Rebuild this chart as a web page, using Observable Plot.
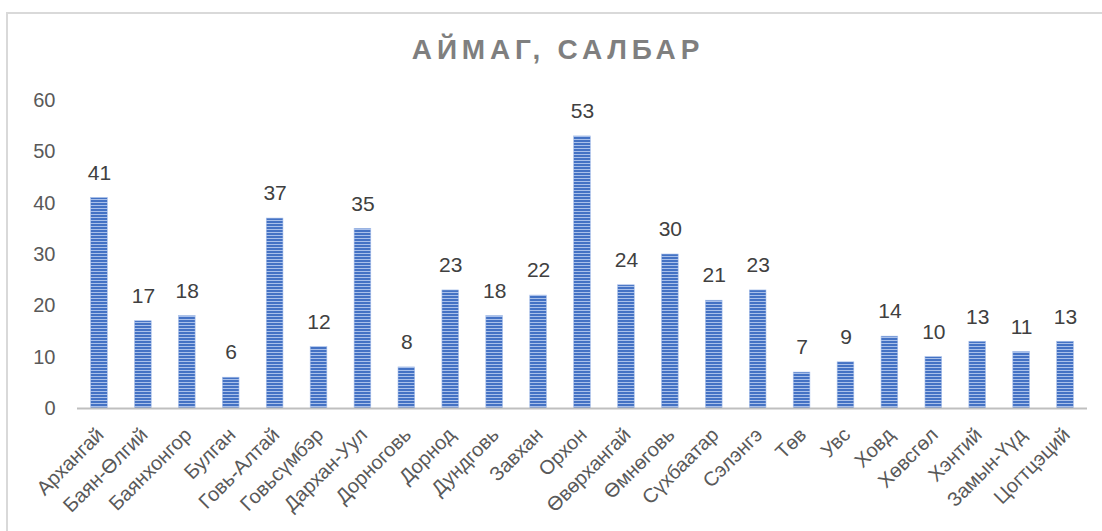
<!DOCTYPE html>
<html>
<head>
<meta charset="utf-8">
<script src="https://cdn.jsdelivr.net/npm/d3@7"></script>
<script src="https://cdn.jsdelivr.net/npm/@observablehq/plot@0.6"></script>
<style>
  html, body { margin: 0; padding: 0; background: #fff; overflow: hidden; width: 1102px; height: 531px; }
  body { position: relative; font-family: "Liberation Sans", Arial, sans-serif; }
  #frame { position: absolute; left: 6px; top: 12px; width: 1200px; height: 700px; border: 2px solid #d9d9d9; box-sizing: border-box; }
  #title { position: absolute; left: 7px; top: 0; width: 1102px; height: 80px; text-align: center; line-height: 100px;
           font-size: 28px; font-weight: bold; color: #7f7f7f; letter-spacing: 4.8px; }
  #chart { position: absolute; left: 0; top: 80px; }
</style>
</head>
<body>
<div id="frame"></div>
<div id="title">АЙМАГ, САЛБАР</div>
<div id="chart"></div>
<script>
const categories = ["Архангай", "Баян-Өлгий", "Баянхонгор", "Булган", "Говь-Алтай", "Говьсүмбэр", "Дархан-Уул", "Дорноговь", "Дорнод", "Дундговь", "Завхан", "Орхон", "Өвөрхангай", "Өмнөговь", "Сүхбаатар", "Сэлэнгэ", "Төв", "Увс", "Ховд", "Хөвсгөл", "Хэнтий", "Замын-Үүд", "Цогтцэций"];
const values = [41, 17, 18, 6, 37, 12, 35, 8, 23, 18, 22, 53, 24, 30, 21, 23, 7, 9, 14, 10, 13, 11, 13];
const yTicks = [0, 10, 20, 30, 40, 50, 60];

const data = categories.map((c, i) => ({ name: c, value: values[i] }));

const svg = Plot.plot({
  width: 1102,
  height: 451,
  marginTop: 20,
  marginBottom: 123,
  marginLeft: 77,
  marginRight: 15,
  style: { fontFamily: "Liberation Sans, Arial, sans-serif", background: "transparent" },
  x: { domain: categories, paddingInner: 0.62, paddingOuter: 0.31, round: false, label: null },
  y: { domain: [0, 60], label: null },
  marks: [
    Plot.axisY({ ticks: yTicks, tickSize: 0, tickPadding: 22, fontSize: 20, color: "#595959", label: null }),
    Plot.axisX({ tickSize: 0, tickPadding: 23, dx: 1, tickRotate: -45, fontSize: 20, color: "#595959", label: null }),
    Plot.barY(data, { x: "name", y: "value", fill: "url(#stripes)", stroke: "#a9c0ea", strokeWidth: 0.6 }),
    Plot.ruleY([0], { stroke: "#bfbfbf", strokeWidth: 2 }),
    Plot.text(data, { x: "name", y: "value", text: d => String(d.value), dy: -25, fontSize: 21, fill: "#404040", lineAnchor: "middle" })
  ]
});

const ns = "http://www.w3.org/2000/svg";
const defs = document.createElementNS(ns, "defs");
const pat = document.createElementNS(ns, "pattern");
pat.setAttribute("id", "stripes");
pat.setAttribute("patternUnits", "userSpaceOnUse");
pat.setAttribute("width", "4");
pat.setAttribute("height", "3");
const r1 = document.createElementNS(ns, "rect");
r1.setAttribute("width", "4"); r1.setAttribute("height", "3"); r1.setAttribute("fill", "#a9c0ea");
const r2 = document.createElementNS(ns, "rect");
r2.setAttribute("width", "4"); r2.setAttribute("height", "2"); r2.setAttribute("fill", "#4472c4");
pat.appendChild(r1); pat.appendChild(r2);
defs.appendChild(pat);
svg.insertBefore(defs, svg.firstChild);

document.getElementById("chart").appendChild(svg);
</script>
</body>
</html>
